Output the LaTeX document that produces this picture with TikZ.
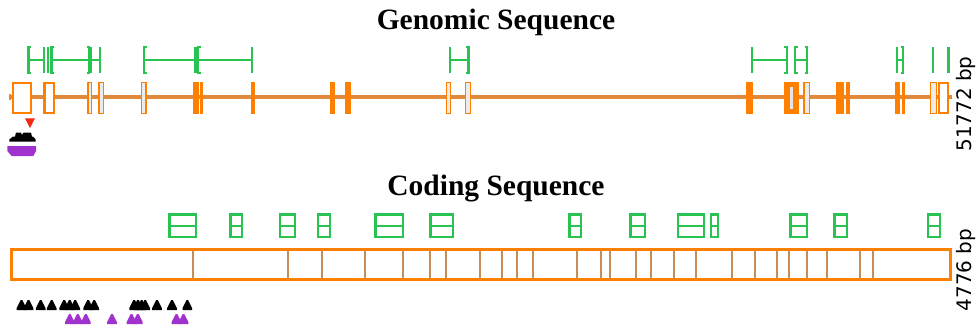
\documentclass[tikz,border=0pt]{standalone}
\usepackage{fontspec}
\setmainfont{Liberation Serif}
\newfontfamily\lblfont{DejaVu Sans}
\definecolor{gline}{RGB}{226,138,60}
\definecolor{eorange}{RGB}{255,128,0}
\definecolor{dgreen}{RGB}{40,195,80}
\definecolor{cdiv}{RGB}{200,140,85}
\definecolor{mpurple}{RGB}{160,50,205}
\definecolor{mred}{RGB}{240,40,20}
\newcommand\gbl[1]{\draw[dom] (#1+2.5,47) -- (#1,47) -- (#1,73) -- (#1+2.5,73);}
\newcommand\gbr[1]{\draw[dom] (#1-2.5,47) -- (#1,47) -- (#1,73) -- (#1-2.5,73);}
\newcommand\gbv[1]{\draw[dom] (#1,47) -- (#1,73);}
\newcommand\gbh[2]{\draw[dom] (#1,60) -- (#2,60);}
\newcommand\mtri[3]{\fill[#3] (#1-4.8,#2) -- (#1-4.8,#2-2) -- (#1-0.8,#2-10) -- (#1+0.8,#2-10) -- (#1+4.8,#2-2) -- (#1+4.8,#2) -- cycle;}
\begin{document}
\begin{tikzpicture}[x=1pt,y=-1pt,
  genline/.style={draw=gline,line width=3.2pt},
  exo/.style={draw=eorange,fill=white,line width=2.2pt},
  exn/.style={draw=eorange,fill=white!85!gray,line width=1.4pt},
  exf/.style={draw=eorange,fill=eorange,line width=0.8pt},
  dom/.style={draw=dgreen,line width=2.2pt},
  cdsbox/.style={draw=eorange,fill=white,line width=3pt},
  cdsdiv/.style={draw=cdiv,line width=2.2pt},
  dbox/.style={draw=dgreen,fill=white,line width=2.2pt},
  title/.style={font=\fontsize{29.5}{32}\selectfont\bfseries,anchor=base},
  lenlbl/.style={font=\lblfont\fontsize{20}{22}\selectfont,rotate=90}]
\useasboundingbox (0,0) rectangle (977,327);

% titles
\node[title] (gtitle) at (496,29) {Genomic Sequence};
\node[title] (ctitle) at (496,195) {Coding Sequence};

% genomic intron line
\draw[genline] (10,97) -- (952,97);
\draw[gline,line width=1.2pt] (10,94) -- (10,100);

% outlined exons (wide)
\foreach \a/\b in {11.7/31.7, 43.3/55, 937.5/949.3}
  \draw[exo] (\a+1.1,83.1) rectangle (\b-1.1,112.9);
% outlined exons (narrow)
\foreach \a/\b in {87.3/92.3, 98.3/104.3, 140.7/146.7, 445.7/451, 465/471, 803.3/810, 930/937.3}
  \draw[exn] (\a+0.7,82.7) rectangle (\b-0.7,113.3);
% filled exons
\foreach \a/\b in {193.3/199, 200/202.3, 251/255, 330/334.3, 344.5/350.5, 746/752.7, 784/798.3, 836/843.3, 846/850, 895/900, 901.7/904.3}
  \draw[exf] (\a+0.4,82.4) rectangle (\b-0.4,113.6);
\fill[white!80!gray] (790,87) rectangle (792.5,109);

% genomic domains
\gbl{28.5} \gbv{44.3} \gbh{28.5}{44.3}
\gbv{47.7}
\gbl{51.5} \gbr{89} \gbh{51.5}{89}
\gbv{90.7} \gbv{100} \gbh{90.7}{100}
\gbl{144} \gbh{144}{196}
\draw[dom,line width=3.8pt] (196,47) -- (196,73);
\gbl{198} \gbh{198}{252} \gbv{252}
\gbv{450} \gbr{468.5} \gbh{450}{468.5}
\gbv{751.7} \gbr{786.7} \gbh{751.7}{786.7}
\gbl{795} \gbr{807.3} \gbh{795}{807.3}
\gbv{896.7} \gbr{903.3} \gbh{896.7}{903.3}
\gbv{933}
\draw[dom,line width=3.5pt] (948.3,47) -- (948.3,73);

% markers under first exon
\fill[mred] (25,118.3) -- (35,118.3) -- (30,128) -- cycle;
\fill[black] (9.3,141.7) -- (9.3,139.5) -- (13,136.5) -- (15,136.5) -- (16,132.7) -- (21,132.7) -- (22,135) -- (23.5,132.7) -- (31,132.7) -- (32,136.5) -- (33,136.5) -- (35.7,139.5) -- (35.7,141.7) -- cycle;
\fill[mpurple] (7.3,146) -- (36,146) -- (36,151) -- (33.3,156) -- (11.7,156) -- (7.3,151) -- cycle;

% length labels
\node[lenlbl] (glen) at (966,104) {51772 bp};
\node[lenlbl] (clen) at (966,270) {4776 bp};

% coding sequence box
\draw[cdsbox] (11.5,249.8) rectangle (950.5,279.2);
\foreach \x in {193,288,322,365,403,430,446,480,502,517,533,577,601,610,636,651,674,696,732,755,777,789,807,827,860,873}
  \draw[cdsdiv] (\x,250.5) -- (\x,278.5);

% coding domains
\foreach \a/\b in {168.3/197.3, 229.3/243.3, 279/295.7, 316.7/330.7, 374.3/404, 429.3/454, 568.3/582.3, 629.3/645.7, 676.7/705, 710/719, 789.3/808.3, 833.3/848.3, 926.7/940.7}
  {\draw[dbox] (\a+1.1,214.4) rectangle (\b-1.1,237.2);
   \draw[dom] (\a+1.1,226) -- (\b-1.1,226);}

% coding markers
\foreach \x in {21.5,28.5,40.7,51.7,64.1,69.7,75.2,88.1,94.2,134.1,138,141.7,145.2,157,172,187.3}
  {\mtri{\x}{310}{black}}
\foreach \x in {69.8,77.8,85.9,112,131.5,137.9,176.5,183.5}
  {\mtri{\x}{324}{mpurple}}
\end{tikzpicture}
\end{document}
